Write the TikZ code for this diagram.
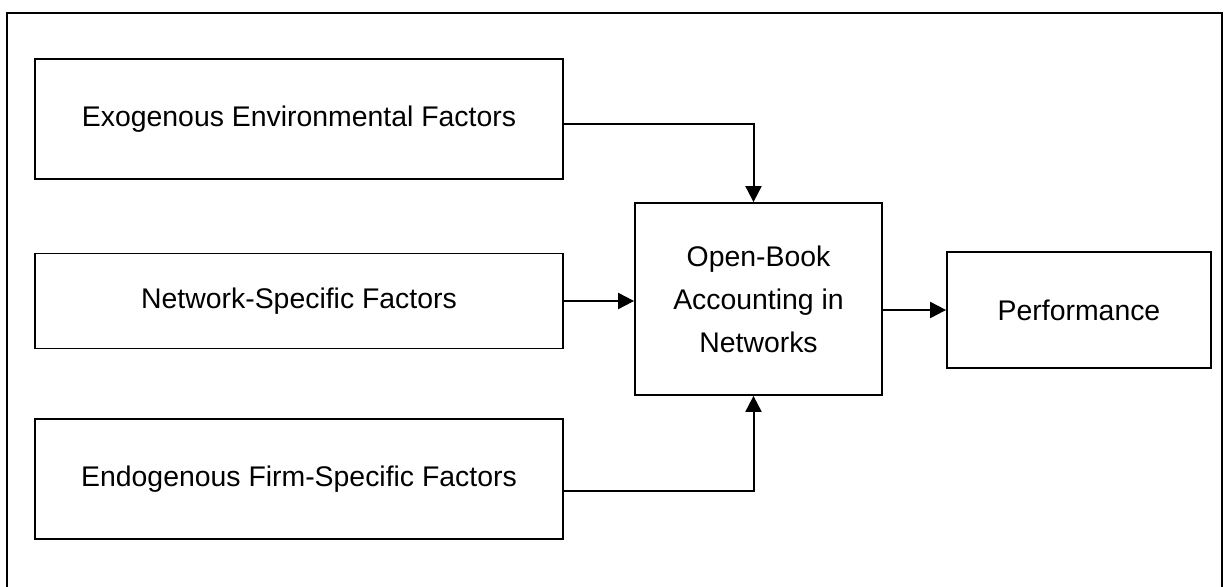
\documentclass[tikz,border=0pt]{standalone}
\usepackage{fontspec}
\setmainfont{Liberation Sans}
\usetikzlibrary{arrows.meta}

\begin{document}
\begin{tikzpicture}[x=0.5pt,y=-0.5pt,
  factor/.style={draw,line width=.9pt,minimum width=264pt,inner sep=0pt,
    font=\fontsize{14.2}{21.5}\selectfont},
  link/.style={line width=1pt,-{Triangle[length=8pt,width=8pt]}}]
  \useasboundingbox (0,0) rectangle (1227,587);
  % outer frame (open at the bottom)
  \draw[line width=1.3pt] (7,587) -- (7,13) -- (1222,13) -- (1222,587);
  % instantiate nodes
  \node[factor,minimum height=60pt] (exo) at (299,119) {Exogenous Environmental Factors};
  \node[factor,minimum height=47.5pt] (net) at (299,301) {Network-Specific Factors};
  \node[factor,minimum height=60pt] (endo) at (299,479) {Endogenous Firm-Specific Factors};
  \node[factor,minimum width=123.5pt,minimum height=96pt,align=center] (oba) at (758.5,299)
    {Open-Book\\Accounting in\\Networks};
  \node[factor,minimum width=132pt,minimum height=58pt] (perf) at (1079,310) {Performance};
  % draw connectors
  \draw[link] ([yshift=-2.5pt]exo.east) -| ([xshift=-2.5pt]oba.north);
  \draw[link] (net.east) -- (oba.west |- net.east);
  \draw[link] ([yshift=-6pt]endo.east) -| ([xshift=-2.5pt]oba.south);
  \draw[link] (oba.east |- perf.west) -- (perf.west);
\end{tikzpicture}
\end{document}
